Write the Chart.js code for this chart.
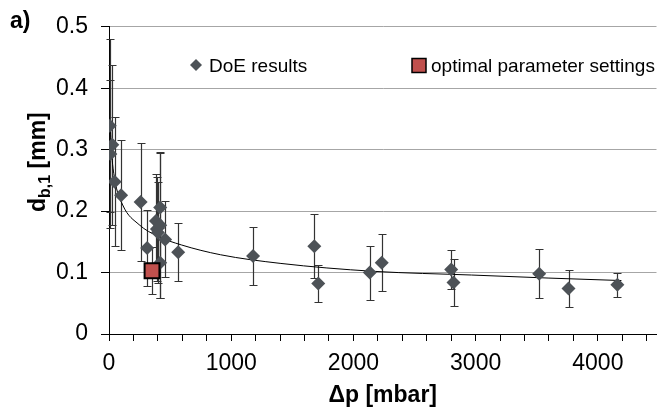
<!DOCTYPE html>
<html>
<head>
<meta charset="utf-8">
<script src="https://cdn.jsdelivr.net/npm/chart.js@4"></script>
<style>
  html, body { margin: 0; padding: 0; background: #fff; }
  canvas { display: block; }
</style>
</head>
<body>
<canvas id="dropChart" width="669" height="409"></canvas>
<script>
// DoE results: pressure difference [mbar], bubble diameter [mm], error (+/-)
const doeX   = [6, 11, 27, 46, 99, 259, 312, 384, 392, 400, 419, 419, 419, 459, 566,
                1179, 1680, 1712, 2134, 2232, 2800, 2819, 3520, 3760, 4160];
const doeY   = [0.339, 0.293, 0.308, 0.248, 0.226, 0.215, 0.140, 0.184, 0.171, 0.165, 0.206, 0.177, 0.116, 0.154, 0.133,
                0.127, 0.143, 0.082, 0.100, 0.116, 0.105, 0.084, 0.098, 0.074, 0.080];
const doeErr = [0.141, 0.120, 0.130, 0.105, 0.090, 0.096, 0.062, 0.077, 0.085, 0.082, 0.090, 0.118, 0.057, 0.062, 0.047,
                0.047, 0.052, 0.030, 0.044, 0.046, 0.032, 0.038, 0.040, 0.030, 0.019];

// optimal parameter settings
const optX   = [352];
const optY   = [0.103];
const optErr = [0.038];

// trend line
const fitX = [11, 20, 46, 112, 246, 400, 592, 912, 1400, 2166, 2966, 3600, 4193];
const fitY = [0.342, 0.300, 0.253, 0.210, 0.178, 0.159, 0.145, 0.129, 0.115, 0.102, 0.096, 0.091, 0.087];

const FONT = "'Liberation Sans', Arial, sans-serif";

function toPoints(xs, ys) {
    return xs.map(function(v, i) { return { x: v, y: ys[i] }; });
}

const errorBars = {
    id: 'errorBars',
    beforeDatasetsDraw: function(chart) {
        const ctx = chart.ctx;
        const x = chart.scales.x, y = chart.scales.y;
        ctx.save();
        ctx.strokeStyle = '#333';
        ctx.lineWidth = 1.2;
        function draw(xs, ys, es) {
            xs.forEach(function(v, i) {
                const px = Math.round(x.getPixelForValue(v)) + 0.5;
                const top = Math.round(y.getPixelForValue(ys[i] + es[i])) + 0.5;
                const bot = Math.round(y.getPixelForValue(ys[i] - es[i])) + 0.5;
                ctx.beginPath();
                ctx.moveTo(px, top); ctx.lineTo(px, bot);
                ctx.moveTo(px - 4, top); ctx.lineTo(px + 4, top);
                ctx.moveTo(px - 4, bot); ctx.lineTo(px + 4, bot);
                ctx.stroke();
            });
        }
        draw(doeX, doeY, doeErr);
        draw(optX, optY, optErr);
        ctx.restore();
    }
};

const labels = {
    id: 'labels',
    afterDraw: function(chart) {
        const ctx = chart.ctx;
        const area = chart.chartArea;
        ctx.save();
        ctx.fillStyle = '#000';
        ctx.textBaseline = 'alphabetic';

        // panel letter
        ctx.font = 'bold 23px ' + FONT;
        ctx.textAlign = 'left';
        ctx.fillText('a)', 10, 28);

        // x title
        ctx.textAlign = 'center';
        ctx.fillText('Δp [mbar]', (area.left + area.right) / 2, 402);

        // y title with subscript
        ctx.translate(45, 212);
        ctx.rotate(-Math.PI / 2);
        ctx.textAlign = 'left';
        let pos = 0;
        ctx.font = 'bold 23px ' + FONT;
        ctx.fillText('d', pos, 0);
        pos += ctx.measureText('d').width;
        ctx.font = 'bold 16px ' + FONT;
        ctx.fillText('b,1', pos, 5);
        pos += ctx.measureText('b,1').width;
        ctx.font = 'bold 23px ' + FONT;
        ctx.fillText(' [mm]', pos, 0);
        ctx.setTransform(1, 0, 0, 1, 0, 0);

        // legend
        ctx.fillStyle = '#4d5257';
        ctx.beginPath();
        ctx.moveTo(196, 59); ctx.lineTo(202, 65); ctx.lineTo(196, 71); ctx.lineTo(190, 65);
        ctx.closePath();
        ctx.fill();
        ctx.fillStyle = '#c0504d';
        ctx.fillRect(412, 58.5, 14, 14);
        ctx.strokeStyle = '#000';
        ctx.lineWidth = 1.5;
        ctx.strokeRect(412, 58.5, 14, 14);
        ctx.fillStyle = '#000';
        ctx.font = '19px ' + FONT;
        ctx.textAlign = 'left';
        ctx.fillText('DoE results', 209, 72);
        ctx.fillText('optimal parameter settings', 431, 72);
        ctx.restore();
    }
};

new Chart(document.getElementById('dropChart').getContext('2d'), {
    type: 'scatter',
    data: {
        datasets: [{
            label: 'fit',
            type: 'line',
            data: toPoints(fitX, fitY),
            borderColor: '#000',
            borderWidth: 1,
            pointRadius: 0,
            cubicInterpolationMode: 'monotone',
            fill: false,
            order: 3
        }, {
            label: 'DoE results',
            data: toPoints(doeX, doeY),
            pointStyle: 'rectRot',
            pointRadius: 7,
            backgroundColor: '#4d5257',
            borderColor: '#4d5257',
            borderWidth: 0,
            order: 2
        }, {
            label: 'optimal parameter settings',
            data: toPoints(optX, optY),
            pointStyle: 'rect',
            pointRadius: 10.5,
            backgroundColor: '#c0504d',
            borderColor: '#000',
            borderWidth: 2,
            order: 1
        }]
    },
    options: {
        responsive: false,
        animation: false,
        layout: { padding: { top: 23, right: 0, bottom: 0, left: 0 } },
        plugins: {
            legend: { display: false },
            tooltip: { enabled: false }
        },
        scales: {
            x: {
                type: 'linear',
                min: 0,
                max: 4480,
                afterFit: function(scale) { scale.height = 75; },
                border: { color: '#000', width: 1 },
                grid: { drawOnChartArea: false, tickLength: 7, tickColor: '#000' },
                ticks: {
                    stepSize: 200,
                    includeBounds: false,
                    autoSkip: false,
                    maxRotation: 0,
                    padding: 9,
                    color: '#000',
                    font: { size: 23, family: FONT },
                    callback: function(value) {
                        return value % 1000 === 0 ? value : '';
                    }
                }
            },
            y: {
                min: 0,
                max: 0.5,
                afterFit: function(scale) { scale.width = 109; },
                border: { color: '#000', width: 1 },
                grid: {
                    color: function(c) { return c.tick && c.tick.value === 0 ? 'rgba(0,0,0,0)' : '#a6a6a6'; },
                    tickColor: '#000',
                    tickLength: 8
                },
                ticks: {
                    stepSize: 0.1,
                    padding: 13,
                    color: '#000',
                    font: { size: 23, family: FONT },
                    callback: function(value) {
                        return value === 0 ? '0' : value.toFixed(1);
                    }
                }
            }
        }
    },
    plugins: [errorBars, labels]
});
</script>
</body>
</html>
